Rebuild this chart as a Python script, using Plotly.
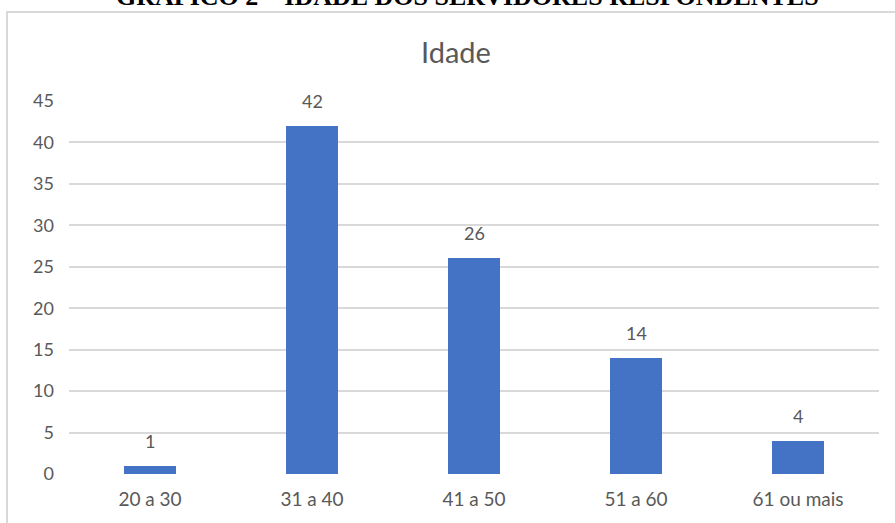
import plotly.graph_objects as go

# Age groups of responding staff and their counts
categories = ["20 a 30", "31 a 40", "41 a 50", "51 a 60", "61 ou mais"]
counts = [1, 42, 26, 14, 4]
y_ticks = [0, 5, 10, 15, 20, 25, 30, 35, 40, 45]

W, H = 895, 523
L, R, T, B = 69, 16, 101, 49
plot_w = W - L - R
plot_h = H - T - B

def px_x(px):
    return (px - L) / plot_w

def px_y(py):
    return (H - B - py) / plot_h

gray = "#595959"
font_family = "Lato, 'Open Sans', sans-serif"

fig = go.Figure()
fig.add_trace(go.Bar(
    x=categories,
    y=counts,
    marker=dict(color="#4472C4", line=dict(width=0)),
    width=0.315,
    hoverinfo="skip",
))

# value labels above each bar
for c, v in zip(categories, counts):
    fig.add_annotation(
        x=c, y=v, text=str(v), showarrow=False,
        yanchor="bottom", yshift=12,
        font=dict(size=18, color=gray, family=font_family),
    )

# chart title
fig.add_annotation(
    x=px_x(455.5), y=px_y(52), xref="paper", yref="paper",
    text="Idade", showarrow=False, xanchor="center", yanchor="middle",
    font=dict(size=29, color=gray, family=font_family),
)

# figure caption above the chart frame (partly above the page edge)
fig.add_annotation(
    x=px_x(467), y=px_y(13), xref="paper", yref="paper",
    text="<b>GRÁFICO 2 – IDADE DOS SERVIDORES RESPONDENTES</b>",
    showarrow=False, xanchor="center", yanchor="bottom",
    font=dict(size=26, color="#000000", family="'Liberation Serif', 'Times New Roman', serif"),
)

# chart frame
fig.add_shape(
    type="rect", xref="paper", yref="paper",
    x0=px_x(7), x1=px_x(905), y0=px_y(540), y1=px_y(12),
    line=dict(color="#D9D9D9", width=2), fillcolor="rgba(0,0,0,0)",
    layer="below",
)

fig.update_layout(
    width=W, height=H,
    margin=dict(l=L, r=R, t=T, b=B),
    paper_bgcolor="white", plot_bgcolor="white",
    showlegend=False,
    bargap=0,
    xaxis=dict(
        showgrid=False, showline=False, zeroline=False, ticks="",
        ticklabelstandoff=12,
        tickfont=dict(size=19, color=gray, family=font_family),
        fixedrange=True,
    ),
    yaxis=dict(
        range=[0, 45], tickvals=y_ticks,
        showgrid=True, gridcolor="#D9D9D9", gridwidth=1.5,
        zeroline=False, showline=False, ticks="",
        ticklabelstandoff=14,
        tickfont=dict(size=18, color=gray, family=font_family),
        fixedrange=True,
    ),
)

fig.write_html("out.html")
